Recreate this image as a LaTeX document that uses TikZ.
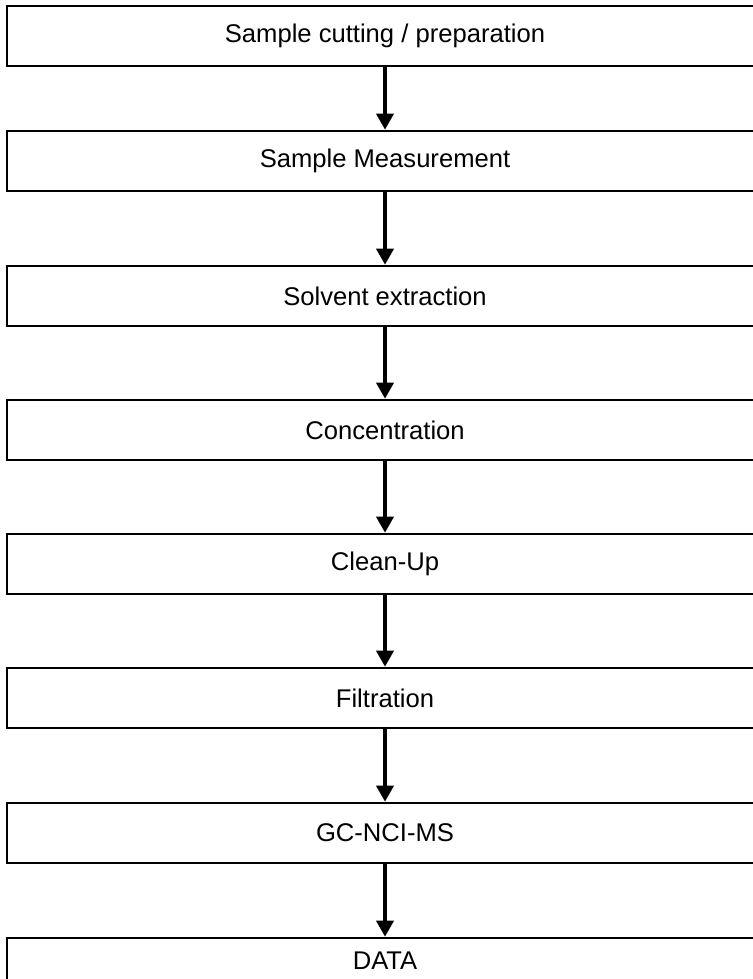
\documentclass[tikz,border=0pt]{standalone}
\usepackage{fontspec}
\setmainfont{Liberation Sans}
\usepackage{tikz}
\usetikzlibrary{arrows.meta}

\begin{document}
\begin{tikzpicture}[x=1pt, y=-1pt,
    stepbox/.style={rectangle,draw,line width=2.6pt,minimum width=756pt,minimum height=60pt,inner sep=0pt,
      font=\fontsize{25.6}{30}\selectfont},
    flow/.style={line width=3.6pt,-{Triangle[width=17pt,length=16pt]}}]

      \useasboundingbox (0,0) rectangle (752,979);

      % Process steps, top to bottom
      \node[stepbox] (P1) at (385,36) {Sample cutting / preparation};
      \node[stepbox] (P2) at (385,161) {Sample Measurement};
      \node[stepbox] (P3) at (385,296) {Solvent extraction};
      \node[stepbox] (P4) at (385,430) {Concentration};
      \node[stepbox] (P5) at (385,564) {Clean-Up};
      \node[stepbox] (P6) at (385,698) {Filtration};
      \node[stepbox] (P7) at (385,833) {GC-NCI-MS};
      \node[stepbox, minimum height=46pt] (P8) at (385,961) {DATA};

      % Arrows between steps
      \foreach \i/\j in {P1/P2,P2/P3,P3/P4,P4/P5,P5/P6,P6/P7,P7/P8}
        \draw[flow] (\i) -- (\j);

    \end{tikzpicture}
\end{document}
